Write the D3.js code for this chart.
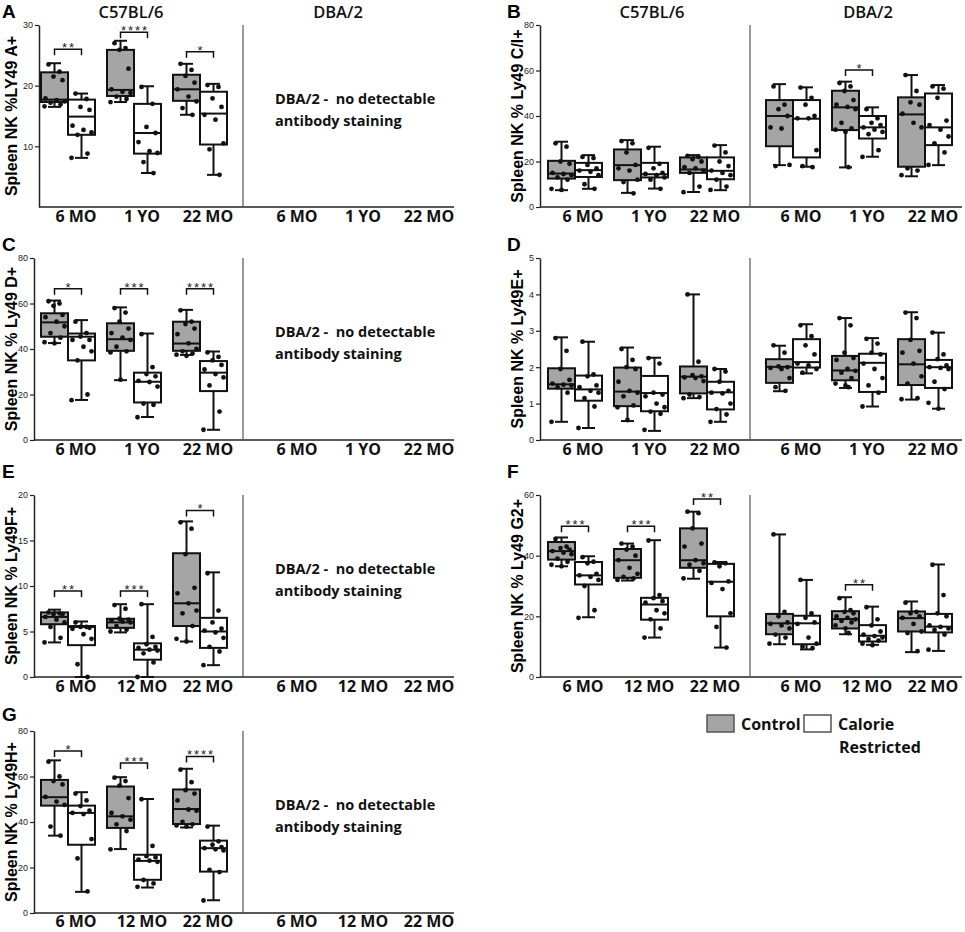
<!DOCTYPE html>
<html>
<head>
<meta charset="utf-8">
<script src="https://cdn.jsdelivr.net/npm/d3@7"></script>
<style>body{margin:0;background:#fff}</style>
</head>
<body>
<script>
"use strict"

// x labels
var agesYO = ["6 MO", "1 YO", "22 MO"];
var agesMO = ["6 MO", "12 MO", "22 MO"];

// box stats per group: [min, q1, median, q3, max]
// A - Ly49A+ (C57BL/6 only)
var aCtrlBox = [[16.5,17.3,17.7,22.2,23.7],[17.3,18.3,19.3,25.9,27.4],[15.2,17.5,19.4,21.8,23.6]];
var aCrBox = [[8.1,11.9,14.9,17.7,18.7],[5.6,8.8,12.2,17.0,19.9],[5.3,10.3,15.4,19.0,20.3]];
var aCtrlPts = [[23.5,22.3,21.5,20.9,17.9,17.6,17.4,17.2,16.9,16.6],[27.0,26.2,25.9,22.8,19.4,19.0,18.8,18.2,17.8,17.3],[23.6,22.6,21.6,20.5,19.4,18.2,17.4,16.3,15.2]];
var aCrPts = [[18.7,17.8,16.5,16.0,13.4,12.7,12.3,11.9,8.8,8.1],[19.8,17.0,13.2,12.2,10.7,9.2,8.9,7.4,5.6],[20.1,19.8,17.9,16.5,15.2,14.4,10.5,9.5,5.3]];
var aStars = ["**","****","*"];
var aStarAt = [26.0,28.8,25.6];

// B - Ly49 C/I+ (C57BL/6 x3, DBA/2 x3)
var bCtrlBox = [[7.4,12.5,14.7,20.3,28.7],[6.2,11.8,18.4,25.3,29.4],[6.6,15.0,16.5,21.8,22.8],[18.4,26.7,40.0,47.0,54.0],[17.4,33.8,43.8,51.1,55.1],[13.5,17.7,40.7,48.2,58.0]];
var bCrBox = [[8.0,13.2,16.2,19.4,22.8],[8.1,13.0,14.4,19.4,26.5],[7.4,12.2,15.9,21.8,27.2],[17.7,21.8,38.8,47.0,52.6],[22.1,30.1,35.0,40.0,43.8],[18.4,27.2,35.0,49.9,53.6]];
var bCtrlPts = [[28,26.5,20,19,15,14.5,14,13,12,8,7.5],[29,28,24,18.5,17,16,12,11,6],[22.5,22,21,20,17.5,17,16,15,9,6.5],[53,45,43,40,35,34.5,18.5,18],[54.5,53,51,47,45,44,43,37,34.5,34,33,17.5],[58,51,46,45,41,37,35,17,16,14]];
var bCrPts = [[22,21.5,18.5,17,16,15.5,14,10,8],[26,19,17,15,14.5,14,13,12,8],[27,24,20,18,16,15,14,12,9,7.5],[52.5,48,45,40,39,39,25,18,17.5],[43,39,37,36,35,34,33,32,25,22],[53,52,48,38,36,34,31,28,24,18.5]];
var bStars = ["","","","","*",""];
var bStarAt = [0,0,0,0,60.2,0];

// C - Ly49 D+
var cCtrlBox = [[42.6,45.4,51.7,55.7,61.3],[26.3,39.2,44.3,51.3,58.3],[37.4,39.2,42.4,52.0,57.2]];
var cCrBox = [[17.6,35.0,45.4,46.8,52.7],[10.1,16.5,25.6,29.6,46.8],[4.5,21.5,29.6,34.7,38.9]];
var cCtrlPts = [[61,60,59,55,54,52,50,47,45,43,42.5],[58,56,52,49,47,45,44,41,39,38.5,26.5],[57,52,51,49,46.5,42.5,40,39,38,37.5,37]];
var cCrPts = [[52,47,45.5,44,44,41,39,35,20,17.5],[46.5,32,29,28,26,25.5,23.5,16,15.5,10],[38.5,36.5,35,33,31,29,27.5,24,12.5,4.5]];
var cStars = ["*","***","****"];
var cStarAt = [66.5,66.5,66.5];

// D - Ly49E+
var dCtrlBox = [[0.5,1.41,1.53,1.97,2.82],[0.52,0.93,1.33,1.99,2.54],[1.15,1.28,1.74,2.02,4.0],[1.34,1.57,2.01,2.22,2.59],[1.43,1.64,1.91,2.31,3.35],[1.11,1.51,2.08,2.77,3.51]];
var dCrBox = [[0.33,1.08,1.39,1.77,2.7],[0.25,0.79,1.29,1.76,2.26],[0.5,0.84,1.31,1.6,1.95],[1.83,1.99,2.14,2.77,3.18],[0.92,1.32,2.12,2.37,2.8],[0.86,1.43,2.0,2.2,2.95]];
var dCtrlPts = [[2.8,2.45,1.95,1.65,1.55,1.52,1.5,1.45,1.3,0.5],[2.5,2.2,2.0,1.95,1.6,1.35,1.3,1.2,0.95,0.9,0.55],[4.0,2.15,1.78,1.75,1.72,1.7,1.62,1.25,1.18,1.15],[2.6,2.4,2.02,2.0,1.98,1.95,1.7,1.45,1.35],[3.35,3.15,2.4,2.25,2.2,1.95,1.9,1.85,1.7,1.55,1.5,1.45],[3.5,3.35,2.75,2.45,2.4,2.1,1.75,1.55,1.15,1.12]];
var dCrPts = [[2.7,1.8,1.75,1.5,1.45,1.35,1.3,1.15,0.92,0.33],[2.25,2.1,1.3,1.25,1.2,1.0,0.9,0.78,0.72,0.28],[1.95,1.88,1.6,1.35,1.3,1.28,1.0,0.85,0.7,0.5],[3.15,2.85,2.6,2.35,2.1,2.05,1.95,1.85],[2.78,2.65,2.4,2.35,2.1,1.95,1.7,1.5,1.3,0.92],[2.95,2.35,2.22,2.05,2.0,1.98,1.95,1.6,1.4,1.02,0.86]];

// E - Ly49F+
var eCtrlBox = [[3.8,5.8,6.6,7.1,7.4],[4.9,5.4,6.0,6.4,8.0],[3.9,5.6,8.1,13.6,17.1]];
var eCrBox = [[0,3.5,5.5,5.6,6.1],[0,1.9,3.0,3.7,8.0],[1.3,3.2,5.0,6.5,11.5]];
var eCtrlPts = [[7.1,7.0,6.9,6.9,6.6,6.3,6.0,5.5,4.3,3.8],[7.9,7.5,6.4,6.3,6.2,6.1,6.0,5.6,5.2,5.0],[17.0,16.3,13.5,9.8,9.2,8.1,7.3,7.0,5.6,4.2,3.9]];
var eCrPts = [[6.0,5.5,5.5,5.4,5.3,4.7,4.2,1.4,0],[8.0,4.4,3.6,3.3,3.2,3.0,2.9,2.6,1.6,0],[11.4,7.3,6.0,5.3,5.1,4.9,4.3,3.3,2.8,1.3]];
var eStars = ["**","***","*"];
var eStarAt = [9.45,9.45,18.3];

// F - Ly49 G2+
var fCtrlBox = [[36.5,38.7,41.5,44.5,46.0],[31.8,32.7,38.5,42.2,44.0],[32.4,36.0,38.5,49.0,54.5],[10.8,14.1,17.7,20.8,47.0],[14.1,16.0,19.1,21.7,26.3],[8.2,15.0,19.4,21.6,24.9]];
var fCrBox = [[19.7,30.5,33.5,37.9,39.8],[13.0,18.9,23.9,26.1,45.1],[9.7,20.0,31.4,37.3,37.9],[9.1,10.8,17.7,20.2,32.0],[10.6,11.7,13.6,17.1,23.2],[8.6,14.7,16.6,20.8,37.1]];
var fCtrlPts = [[45.5,43,42.5,42,41.5,41,40.5,39,38,37,36.5],[44,43,42,40,38.5,36,34,33,32.5,32],[54.5,54,49,44,43,38.5,37.5,37,35,32.5],[47,21.5,20,18,17.5,17,16,14,13,11],[26,22,21.5,21,20,19.5,19,18.5,18,17,16,14.5],[24.5,21.5,21,20,19.5,17.5,15,14.5,8.5]];
var fCrPts = [[39.5,38,37.5,34,33.5,33,32,30,22,19.5],[45,27,26,25,24.5,22,21,19,16,13],[37.8,37.5,36.5,31.5,31,29,21,16.5,9.7],[32,21,19.5,18,17.5,13,11,10,9.5],[23,19,17,15,14,13.5,13,12.5,12,11,10.5],[37,27,21,20,17,16.5,16,15.5,14,9]];
var fStars = ["***","***","**","","**",""];
var fStarAt = [49.7,49.7,58.7,0,30.4,0];

// G - Ly49H+
var gCtrlBox = [[34.0,47.2,50.9,58.5,67.1],[28.1,37.4,42.5,55.6,59.7],[37.6,39.1,45.7,54.3,63.4]];
var gCrBox = [[9.3,30.0,44.0,47.2,53.1],[11.2,14.6,22.9,25.6,50.1],[5.6,18.2,28.5,31.8,38.4]];
var gCtrlPts = [[66.5,60,58,56.5,51,49,47.5,38,34],[59.5,58,56,50.5,44,42.5,41,39,36,28],[63,57.5,54,52.5,49.5,45.5,45,40,39,38.5,38]];
var gCrPts = [[52.5,49.5,47,45,44,43.5,32.5,24,9.5],[50,29.5,25,24.5,23.5,23,22.5,14.5,13,11.5],[38,31.5,30,29,28.5,28,27.5,19,18,5.5]];
var gStars = ["*","***","****"];
var gStarAt = [71.2,65.9,68.8];

// layout
var rowTops = [25, 258, 495, 731];
var letterY = [18, 251, 478, 721];
var labelDy = [15, 15, 15, 14];
var panelH = 182;
var cols = [
    {axisX: 34, divider: 243, right: 454, c57: [35, 233], dba: [256, 454], letterX: 2, labelX: 11, titles: [131, 338]},
    {axisX: 540, divider: 750, right: 962, c57: [542, 740], dba: [760, 958], letterX: 507, labelX: 517, titles: [652, 868]}
];
var jitter = [-6, 5, -1, 8, -9, 2, 10, -4, 6, -10, 0, 3];
var ctrlFill = "#a5a5a5";
var labelFont = "'Open Sans', sans-serif";
var arial = "'Liberation Sans', Arial, sans-serif";

var panels = [
    {id: "A", col: 0, row: 0, ylab: "Spleen NK %LY49 A+", max: 30, ticks: [10, 20, 30], ages: agesYO, axisX: 39,
     ctrl: aCtrlBox, cr: aCrBox, ctrlPts: aCtrlPts, crPts: aCrPts, stars: aStars, starAt: aStarAt, note: true},
    {id: "B", col: 1, row: 0, ylab: "Spleen NK % Ly49 C/I+", max: 80, ticks: [0, 20, 40, 60, 80], ages: agesYO,
     ctrl: bCtrlBox, cr: bCrBox, ctrlPts: bCtrlPts, crPts: bCrPts, stars: bStars, starAt: bStarAt},
    {id: "C", col: 0, row: 1, ylab: "Spleen NK % Ly49 D+", max: 80, ticks: [0, 20, 40, 60, 80], ages: agesYO,
     ctrl: cCtrlBox, cr: cCrBox, ctrlPts: cCtrlPts, crPts: cCrPts, stars: cStars, starAt: cStarAt, note: true},
    {id: "D", col: 1, row: 1, ylab: "Spleen NK % Ly49E+", max: 5, ticks: [0, 1, 2, 3, 4, 5], ages: agesYO,
     ctrl: dCtrlBox, cr: dCrBox, ctrlPts: dCtrlPts, crPts: dCrPts, stars: [], starAt: []},
    {id: "E", col: 0, row: 2, ylab: "Spleen NK % Ly49F+", max: 20, ticks: [0, 5, 10, 15, 20], ages: agesMO,
     ctrl: eCtrlBox, cr: eCrBox, ctrlPts: eCtrlPts, crPts: eCrPts, stars: eStars, starAt: eStarAt, note: true},
    {id: "F", col: 1, row: 2, ylab: "Spleen NK % Ly49 G2+", max: 60, ticks: [0, 20, 40, 60], ages: agesMO,
     ctrl: fCtrlBox, cr: fCrBox, ctrlPts: fCtrlPts, crPts: fCrPts, stars: fStars, starAt: fStarAt},
    {id: "G", col: 0, row: 3, ylab: "Spleen NK % Ly49H+", max: 80, ticks: [0, 20, 40, 60, 80], ages: agesMO,
     ctrl: gCtrlBox, cr: gCrBox, ctrlPts: gCtrlPts, crPts: gCrPts, stars: gStars, starAt: gStarAt, note: true}
];

var svg = d3.select("body").append("svg")
            .attr("width", 965)
            .attr("height", 932)
            .style("display", "block");

panels.forEach(drawPanel);

function drawPanel(p) {
    var col = cols[p.col];
    var top = rowTops[p.row];
    var bottom = top + panelH;
    var axisX = p.axisX || col.axisX;
    var y = d3.scaleLinear().domain([0, p.max]).range([bottom, top]);
    var g = svg.append("g");

    // panel letter
    g.append("text").attr("x", col.letterX).attr("y", letterY[p.row])
     .attr("font-family", arial).attr("font-weight", "bold").attr("font-size", 19)
     .text(p.id);

    // strain titles on the top row
    if (p.row === 0) {
        ["C57BL/6", "DBA/2"].forEach(function(t, i) {
            g.append("text").attr("x", col.titles[i]).attr("y", 18)
             .attr("text-anchor", "middle").attr("font-family", labelFont)
             .attr("font-size", 16.5).attr("font-weight", 600).attr("fill", "#111")
             .text(t);
        });
    }

    // y label
    g.append("text")
     .attr("transform", "translate(" + col.labelX + "," + (top + panelH / 2) + ") rotate(-90)")
     .attr("text-anchor", "middle").attr("dominant-baseline", "central")
     .attr("font-family", arial).attr("font-weight", "bold").attr("font-size", 16)
     .text(p.ylab);

    // y axis
    var ax = g.append("g").attr("transform", "translate(" + axisX + ",0)")
              .call(d3.axisLeft(y).tickValues(p.ticks).tickSize(4).tickSizeOuter(0)
                      .tickPadding(2).tickFormat(d3.format("d")));
    ax.select(".domain").attr("stroke", "#222").attr("stroke-width", 1.5);
    ax.selectAll(".tick line").attr("stroke", "#222").attr("stroke-width", 1.2);
    ax.selectAll(".tick text").attr("font-family", arial).attr("font-size", 9).attr("fill", "#222");

    // x axis line and strain divider
    g.append("line").attr("x1", axisX).attr("x2", col.right).attr("y1", bottom).attr("y2", bottom)
     .attr("stroke", "#222").attr("stroke-width", 1.5);
    g.append("line").attr("x1", col.divider).attr("x2", col.divider).attr("y1", top).attr("y2", bottom)
     .attr("stroke", "#555").attr("stroke-width", 1.2);

    // sections: C57BL/6 then DBA/2
    [col.c57, col.dba].forEach(function(range, s) {
        var x = d3.scaleBand().domain(d3.range(3)).range(range);
        p.ages.forEach(function(age, i) {
            g.append("text").attr("x", x(i) + x.bandwidth() / 2 + 8).attr("y", bottom + labelDy[p.row])
             .attr("text-anchor", "middle").attr("font-family", labelFont)
             .attr("font-weight", "bold").attr("font-size", 16).attr("fill", "#111")
             .text(age);
        });
        var hasData = p.ctrl.length > 3 || s === 0;
        if (!hasData) return;
        d3.range(3).forEach(function(i) {
            var k = s * 3 + i;
            var sub = d3.scaleBand().domain(["ctrl", "cr"]).range([x(i) + 6, x(i) + 60]);
            drawBox(g, y, sub("ctrl"), sub.bandwidth(), p.ctrl[k], p.ctrlPts[k], ctrlFill);
            drawBox(g, y, sub("cr"), sub.bandwidth(), p.cr[k], p.crPts[k], "#fff");
            if (p.stars[k]) {
                var x1 = sub("ctrl") + sub.bandwidth() / 2;
                var x2 = sub("cr") + sub.bandwidth() / 2;
                var by = y(p.starAt[k]);
                g.append("path")
                 .attr("d", "M" + x1 + "," + (by + 6) + "V" + by + "H" + x2 + "V" + (by + 6))
                 .attr("fill", "none").attr("stroke", "#111").attr("stroke-width", 1.5);
                g.append("text").attr("x", (x1 + x2) / 2 + 1).attr("y", by + 3)
                 .attr("text-anchor", "middle").attr("font-family", arial)
                 .attr("font-size", 13).attr("letter-spacing", 2).attr("fill", "#222")
                 .text(p.stars[k]);
            }
        });
    });

    if (p.note) {
        var nx = col.divider + 32;
        g.append("text").attr("x", nx).attr("y", top + 79)
         .attr("font-family", labelFont).attr("font-weight", "bold").attr("font-size", 14.5)
         .attr("fill", "#111").attr("xml:space", "preserve")
         .text("DBA/2 -  no detectable");
        g.append("text").attr("x", nx).attr("y", top + 101)
         .attr("font-family", labelFont).attr("font-weight", "bold").attr("font-size", 14.5)
         .attr("fill", "#111")
         .text("antibody staining");
    }
}

function drawBox(g, y, x0, w, st, pts, fill) {
    var cx = x0 + w / 2;
    var capW = 13;
    // whiskers
    g.append("line").attr("x1", cx).attr("x2", cx).attr("y1", y(st[0])).attr("y2", y(st[4]))
     .attr("stroke", "#111").attr("stroke-width", 2);
    [st[0], st[4]].forEach(function(v) {
        g.append("line").attr("x1", cx - capW / 2).attr("x2", cx + capW / 2)
         .attr("y1", y(v)).attr("y2", y(v))
         .attr("stroke", "#111").attr("stroke-width", 2);
    });
    // box
    g.append("rect").attr("x", x0).attr("y", y(st[3]))
     .attr("width", w).attr("height", y(st[1]) - y(st[3]))
     .attr("fill", fill).attr("stroke", "#111").attr("stroke-width", 2);
    g.append("line").attr("x1", x0).attr("x2", x0 + w).attr("y1", y(st[2])).attr("y2", y(st[2]))
     .attr("stroke", "#111").attr("stroke-width", 2);
    // points
    g.selectAll(null).data(pts).enter().append("circle")
     .attr("cx", function(d, j) { return cx + jitter[j % jitter.length]; })
     .attr("cy", function(d) { return y(d); })
     .attr("r", 2.4)
     .attr("fill", "#111");
}

// legend
var leg = svg.append("g");
leg.append("rect").attr("x", 707).attr("y", 715).attr("width", 27).attr("height", 17)
   .attr("fill", ctrlFill).attr("stroke", "#555").attr("stroke-width", 1.5);
leg.append("text").attr("x", 741).attr("y", 730).attr("font-family", labelFont)
   .attr("font-weight", "bold").attr("font-size", 16).attr("fill", "#111").text("Control");
leg.append("rect").attr("x", 804).attr("y", 715).attr("width", 27).attr("height", 17)
   .attr("fill", "#fff").attr("stroke", "#555").attr("stroke-width", 1.5);
leg.append("text").attr("x", 838).attr("y", 730).attr("font-family", labelFont)
   .attr("font-weight", "bold").attr("font-size", 16).attr("fill", "#111").text("Calorie");
leg.append("text").attr("x", 839).attr("y", 753).attr("font-family", labelFont)
   .attr("font-weight", "bold").attr("font-size", 16).attr("fill", "#111").text("Restricted");
</script>
</body>
</html>
